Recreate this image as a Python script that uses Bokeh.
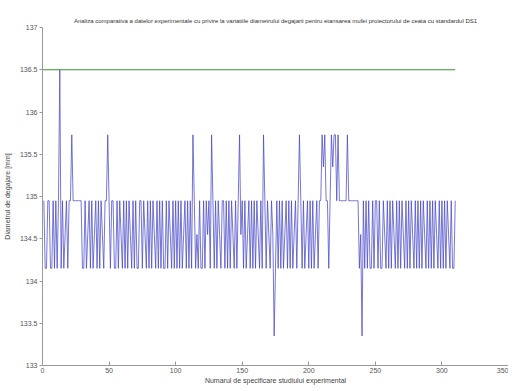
from bokeh.plotting import figure
from bokeh.embed import file_html
from bokeh.resources import INLINE
from bokeh.models import FixedTicker, Range1d

title_text = ("Analiza comparativa a datelor experimentale cu privire la variatiile diametrului "
              "degajarii pentru etansarea mufei proiectorului de ceata cu standardul DS1")
x_label = "Numarul de specificare studiului experimental"
y_label = "Diametrul de degajare [mm]"

x_ticks = [0, 50, 100, 150, 200, 250, 300, 350]
y_ticks = [133, 133.5, 134, 134.5, 135, 135.5, 136, 136.5, 137]
y_tick_labels = ["133", "133.5", "134", "134.5", "135", "135.5", "136", "136.5", "137"]

diam_1 = [
    134.95, 134.15, 134.15, 134.95, 134.95, 134.15, 134.15, 134.95, 134.15, 134.95,
    134.15, 134.95, 136.5, 134.15, 134.95, 134.15, 134.55, 134.95, 134.15, 134.95,
    134.95, 135.73, 134.95, 134.95, 134.95, 134.95, 134.95, 134.95, 134.95, 134.15,
    134.15, 134.95, 134.15, 134.55, 134.95, 134.15, 134.95, 134.15, 134.55, 134.95,
    134.15, 134.95, 134.15, 134.95, 134.55, 134.15, 134.95, 134.95, 135.73, 134.95,
    134.15, 134.95, 134.95, 134.15, 134.15, 134.95, 134.15, 134.95, 134.55, 134.15,
    134.95, 134.15, 134.95, 134.15, 134.95, 134.55, 134.15, 134.95, 134.15, 134.95,
    134.15, 134.15, 134.95, 134.95, 134.15, 134.95, 134.55, 134.15, 134.95, 134.15,
    134.95, 134.15, 134.95, 134.55, 134.15, 134.95, 134.15, 134.95, 134.15, 134.95,
    134.15, 134.15, 134.95, 134.15, 134.95, 134.55, 134.15, 134.95, 134.15, 134.95,
]
diam_2 = [
    134.15, 134.95, 134.15, 134.95, 134.15, 134.55, 134.95, 134.15, 134.95, 134.15,
    134.95, 134.15, 135.73, 134.95, 134.15, 134.55, 134.15, 134.95, 134.15, 134.15,
    134.95, 134.15, 134.95, 134.55, 134.95, 134.15, 135.73, 134.95, 134.15, 134.95,
    134.15, 134.95, 134.55, 134.15, 134.95, 134.95, 134.15, 134.95, 134.15, 134.95,
    134.15, 134.95, 134.55, 134.15, 134.95, 134.15, 134.95, 135.73, 134.55, 134.95,
    134.15, 134.95, 134.15, 134.55, 134.95, 134.15, 134.95, 134.15, 134.95, 134.15,
    134.95, 134.55, 134.15, 134.95, 134.15, 135.73, 134.95, 134.15, 134.95, 134.55,
    134.15, 134.95, 134.55, 133.35, 134.15, 134.95, 134.15, 134.95, 134.15, 134.95,
    134.15, 134.55, 134.95, 134.15, 134.95, 134.15, 134.95, 134.15, 134.55, 134.95,
    134.15, 134.95, 135.73, 134.95, 134.15, 134.95, 134.15, 134.55, 134.95, 134.15,
]
diam_3 = [
    134.95, 134.15, 134.95, 134.15, 134.55, 134.95, 134.15, 134.95, 134.95, 135.73,
    135.35, 135.73, 134.95, 134.95, 134.15, 134.95, 135.73, 135.35, 135.73, 135.73,
    134.95, 135.73, 134.95, 134.95, 134.95, 134.95, 134.95, 134.95, 135.73, 134.95,
    134.95, 134.95, 134.95, 134.95, 134.95, 134.95, 134.95, 134.15, 134.55, 133.35,
    134.95, 134.15, 134.95, 134.15, 134.95, 134.15, 134.15, 134.95, 134.15, 134.95,
    134.95, 134.15, 134.95, 134.15, 134.15, 134.95, 134.55, 134.15, 134.95, 134.15,
    134.95, 134.15, 134.95, 134.55, 134.15, 134.95, 134.15, 134.95, 134.15, 134.95,
    134.55, 134.15, 134.95, 134.15, 134.95, 134.15, 134.95, 134.55, 134.15, 134.95,
    134.15, 134.95, 134.15, 134.95, 134.15, 134.95, 134.55, 134.15, 134.95, 134.15,
    134.95, 134.15, 134.95, 134.15, 134.95, 134.55, 134.15, 134.95, 134.15, 134.95,
    134.15, 134.95, 134.15, 134.95, 134.55, 134.15, 134.95, 134.15, 134.15, 134.95,
]
diameters = diam_1 + diam_2 + diam_3
samples = list(range(1, len(diameters) + 1))

std_x = [0, 310]
std_y = [136.5, 136.5]

FONT = "Liberation Sans"

p = figure(width=508, height=386, output_backend="svg", toolbar_location=None,
           x_range=Range1d(0, 350), y_range=Range1d(133, 137),
           min_border_left=38, min_border_right=0, min_border_top=27, min_border_bottom=0)
p.title.text = title_text
p.title.text_font = FONT
p.title.text_font_size = "6px"
p.title.text_font_style = "normal"
p.title.align = "center"
p.title.text_color = "#333333"
p.title.standoff = 8

p.line(samples, diameters, line_color="#4848c8", line_width=1, line_alpha=0.75)
p.line(std_x, std_y, line_color="#3a8f3a", line_width=1)

p.grid.visible = False
p.outline_line_color = None
p.background_fill_color = "white"

for ax in (p.xaxis[0], p.yaxis[0]):
    ax.axis_line_color = "#9a9a9a"
    ax.major_tick_line_color = "#9a9a9a"
    ax.minor_tick_line_color = None
    ax.major_label_text_font = FONT
    ax.major_label_text_font_size = "7px"
    ax.major_label_text_color = "#555555"
    ax.axis_label_text_font = FONT
    ax.axis_label_text_font_size = "7px"
    ax.axis_label_text_font_style = "normal"
    ax.axis_label_text_color = "#444444"

p.xaxis.ticker = FixedTicker(ticks=x_ticks)
p.yaxis.ticker = FixedTicker(ticks=y_ticks)
p.yaxis.major_label_overrides = dict(zip(y_ticks, y_tick_labels))
p.xaxis.axis_label = x_label
p.yaxis.axis_label = y_label
p.xaxis.major_tick_in = 4
p.xaxis.major_tick_out = 0
p.yaxis.major_tick_in = 0
p.yaxis.major_tick_out = 3
p.xaxis.major_label_standoff = 2
p.yaxis.major_label_standoff = 2
p.xaxis.axis_label_standoff = 1
p.yaxis.axis_label_standoff = 6

open("out.html", "w").write(file_html(p, INLINE))
